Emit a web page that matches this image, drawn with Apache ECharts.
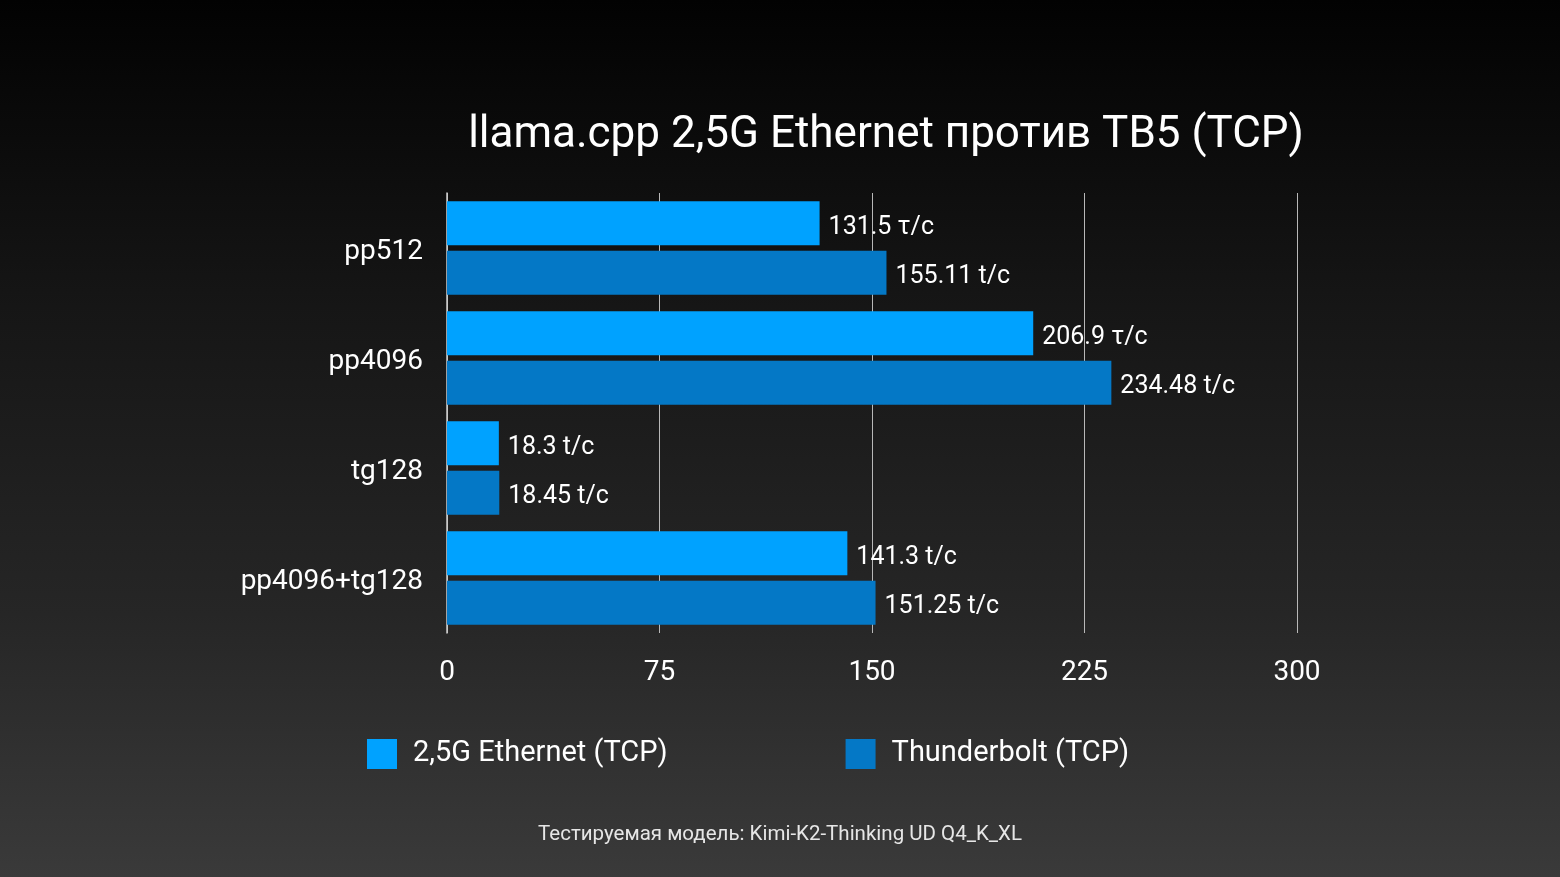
<!DOCTYPE html>
<html>
<head>
<meta charset="utf-8">
<script src="https://cdn.jsdelivr.net/npm/echarts@6/dist/echarts.min.js"></script>
<style>
html,body{margin:0;padding:0;width:1560px;height:877px;overflow:hidden;background:#000;}
#chart{width:1560px;height:877px;}
</style>
</head>
<body>
<div id="chart"></div>
<script>
const titleText = 'llama.cpp 2,5G Ethernet против TB5 (TCP)';
const footerText = 'Тестируемая модель: Kimi-K2-Thinking UD Q4_K_XL';
const categories = ['pp512', 'pp4096', 'tg128', 'pp4096+tg128'];
const seriesNames = ['2,5G Ethernet (TCP)', 'Thunderbolt (TCP)'];
const ethernetValues = [131.5, 206.9, 18.3, 141.3];
const thunderboltValues = [155.11, 234.48, 18.45, 151.25];
const ethernetUnits = ['τ/c', 'τ/c', 't/c', 't/c'];
const thunderboltUnits = ['t/c', 't/c', 't/c', 't/c'];
const xTicks = [0, 75, 150, 225, 300];

const FONT = 'Roboto, "Noto Sans", sans-serif';
const chart = echarts.init(document.getElementById('chart'));

chart.setOption({
  backgroundColor: new echarts.graphic.LinearGradient(0, 0, 0, 1, [
    {offset: 0, color: '#020202'},
    {offset: 0.35, color: '#161616'},
    {offset: 0.7, color: '#262626'},
    {offset: 1, color: '#3a3a3a'}
  ]),
  animation: false,
  title: [{
    text: titleText,
    left: 881, top: 109, textAlign: 'center',
    textStyle: {color: '#ffffff', fontSize: 44, fontWeight: 'normal', fontFamily: FONT}
  }, {
    text: footerText,
    left: 775, top: 819, textAlign: 'center',
    textStyle: {color: '#e6e6e6', fontSize: 20.5, fontWeight: 'normal', fontFamily: FONT}
  }],
  legend: {
    data: seriesNames,
    left: 362, top: 734,
    icon: 'rect', itemWidth: 30, itemHeight: 30, itemGap: 178,
    textStyle: {color: '#ffffff', fontSize: 29, fontFamily: FONT, padding: [0, 0, 0, 11]}
  },
  grid: {left: 447, right: 263, top: 193, bottom: 244, containLabel: false},
  xAxis: {
    type: 'value', min: xTicks[0], max: xTicks[xTicks.length - 1], interval: 75,
    axisLine: {show: false}, axisTick: {show: false},
    splitLine: {show: true, lineStyle: {color: '#b8b8b8', width: 1}},
    axisLabel: {color: '#ffffff', fontSize: 28, fontFamily: FONT, margin: 26}
  },
  yAxis: {
    type: 'category', data: categories, inverse: true,
    axisLine: {show: true, lineStyle: {color: '#cfcfcf', width: 1.5}},
    axisTick: {show: false},
    axisLabel: {
      color: '#ffffff', fontSize: 28, fontFamily: FONT, margin: 24,
      formatter: v => '{c|' + v + '}',
      rich: {c: {color: '#ffffff', fontSize: 28, fontFamily: FONT, padding: [7, 0, 0, 0]}}
    }
  },
  series: [{
    name: seriesNames[0], type: 'bar', data: ethernetValues,
    barWidth: 44, barGap: '12%',
    itemStyle: {color: '#00a2ff'},
    label: {
      show: true, position: 'right', distance: 9, offset: [0, 4], color: '#ffffff', fontSize: 25, fontFamily: FONT,
      formatter: p => p.value + ' ' + ethernetUnits[p.dataIndex]
    }
  }, {
    name: seriesNames[1], type: 'bar', data: thunderboltValues,
    barWidth: 44, barGap: '12%',
    itemStyle: {color: '#0478c6'},
    label: {
      show: true, position: 'right', distance: 9, offset: [0, 4], color: '#ffffff', fontSize: 25, fontFamily: FONT,
      formatter: p => p.value + ' ' + thunderboltUnits[p.dataIndex]
    }
  }]
});
</script>
</body>
</html>
